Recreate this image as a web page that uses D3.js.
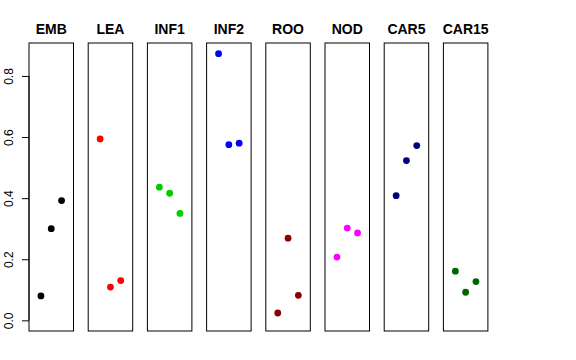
<!DOCTYPE html>
<html><head><meta charset="utf-8">
<script src="https://cdn.jsdelivr.net/npm/d3@7"></script>
<style>body{margin:0;background:#fff}svg{display:block}</style>
</head><body><div id="chart"></div>
<script>
const categories = ["EMB","LEA","INF1","INF2","ROO","NOD","CAR5","CAR15"];
const colors = ["#000000","#FF0000","#00CD00","#0000FF","#8B0000","#FF00FF","#000080","#006400"];
const values1 = [0.080, 0.594, 0.436, 0.873, 0.024, 0.207, 0.408, 0.161];
const values2 = [0.300, 0.109, 0.416, 0.575, 0.269, 0.302, 0.523, 0.092];
const values3 = [0.392, 0.130, 0.350, 0.580, 0.082, 0.286, 0.572, 0.127];
const yTicks = [0, 0.2, 0.4, 0.6, 0.8];
const yTickLabels = ["0.0","0.2","0.4","0.6","0.8"];

const W = 576, H = 360;
const svg = d3.select("#chart").append("svg").attr("width", W).attr("height", H);

const ymax = d3.max([...values1, ...values2, ...values3]);
const pad = ymax * 0.04;
const y = d3.scaleLinear().domain([-pad, ymax + pad]).range([331, 43]);

const panelStep = 59.2, panelW = 44.5, left0 = 29;
const band = d3.scaleLinear().domain([0, 1]).range([left0, left0 + panelStep]);

categories.forEach((cat, i) => {
  const x0 = band(i);
  const x = d3.scaleLinear().domain([-0.16, 4.16]).range([x0, x0 + panelW]);
  const g = svg.append("g");
  g.append("rect").attr("x", x0).attr("y", y.range()[1])
    .attr("width", panelW).attr("height", y.range()[0] - y.range()[1])
    .attr("fill", "none").attr("stroke", "#000").attr("stroke-width", 1);
  g.append("text").attr("x", x0 + panelW / 2).attr("y", 34)
    .attr("text-anchor", "middle").attr("font-family", "Liberation Sans, Arial, sans-serif")
    .attr("font-weight", "bold").attr("font-size", 14).text(cat);
  const pts = [values1[i], values2[i], values3[i]];
  g.selectAll("circle").data(pts).enter().append("circle")
    .attr("cx", (d, j) => x(j + 1)).attr("cy", d => y(d))
    .attr("r", 3.4).attr("fill", colors[i]);
});

// y axis
const axis = d3.axisLeft(y).tickValues(yTicks).tickSize(7).tickPadding(6)
  .tickFormat((d, i) => yTickLabels[i]);
const ag = svg.append("g").attr("transform", `translate(${left0},0)`).call(axis);
ag.select(".domain").attr("d", `M0,${y(0)}V${y(0.8)}`).attr("stroke", "#000");
ag.selectAll(".tick line").attr("stroke", "#000");
ag.selectAll(".tick text")
  .attr("font-family", "Liberation Sans, Arial, sans-serif").attr("font-size", 12)
  .attr("fill", "#000")
  .attr("transform", "rotate(-90)")
  .attr("x", 0).attr("y", -16).attr("dy", "0")
  .attr("text-anchor", "middle");
</script></body></html>
